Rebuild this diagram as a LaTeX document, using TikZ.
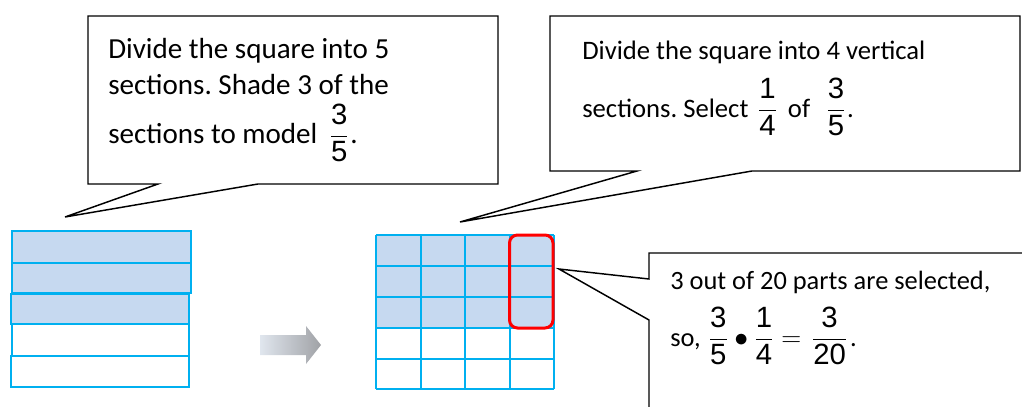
\documentclass[tikz,border=0pt]{standalone}
\usepackage{amsmath}
\usepackage{fontspec}
\setmainfont{Carlito}
\newfontfamily\fracfont{Liberation Sans}
\definecolor{gridblue}{RGB}{0,176,240}
\definecolor{shadeblue}{RGB}{198,217,240}
\definecolor{arrowlight}{RGB}{224,230,238}
\definecolor{arrowdark}{RGB}{160,162,166}
\newcommand{\fd}[1]{\hbox{\fracfont\fontsize{22}{22}\selectfont #1}}
\newcommand{\fr}[2]{\ensuremath{\genfrac{}{}{0.6pt}{0}{\fd{#1}}{\fd{#2}}}}
\frenchspacing
\begin{document}
\begin{tikzpicture}[x=0.75pt,y=-0.75pt,
  callout/.style={draw=black,line width=1.1pt,fill=white,line join=miter},
  cell/.style={draw=gridblue,line width=1.5pt},
  shaded/.style={cell,fill=shadeblue},
  plain/.style={cell,fill=white},
  pick/.style={draw=red,line width=2.25pt,rounded corners=6pt},
  txtA/.style={anchor=base west,inner sep=0pt,font=\fontsize{21.8}{26}\selectfont},
  txtB/.style={anchor=base west,inner sep=0pt,font=\fontsize{20}{24}\selectfont},
  txtC/.style={anchor=base west,inner sep=0pt,font=\fontsize{19.8}{24}\selectfont}]
\useasboundingbox (0,0) rectangle (1022,407);
\clip (0,0) rectangle (1022,407);

% left model: five horizontal sections
\draw[shaded] (12,231) rectangle (191,263);
\draw[shaded] (12,263) rectangle (191,293);
\draw[shaded] (11,294) rectangle (189,324);
\draw[plain]  (12,324) rectangle (189,356);
\draw[plain]  (11,356) rectangle (189,387);

% grey arrow
\shade[shading=axis,shading angle=60,left color=arrowlight,right color=arrowdark]
  (260,335) -- (306,335) -- (306,326) -- (321,345) -- (306,364) -- (306,355) -- (260,355) -- cycle;

% right model: 5 x 4 grid
\fill[shadeblue] (376,235) rectangle (554,328);
\foreach \x in {376,420.5,465,509.5,554} \draw[cell] (\x,235) -- (\x,389);
\foreach \y in {235,266,297,328,358.5,389} \draw[cell] (376,\y) -- (554,\y);
\draw[pick] (509.5,235) rectangle (553,328);

% tips of the callouts
\coordinate (tipA) at (65,217);
\coordinate (tipB) at (460,222);
\coordinate (tipC) at (559,269);

% callout 1
\draw[callout] (88,16) -- (498,16) -- (498,184) -- (258,184) -- (tipA) -- (158,184) -- (88,184) -- cycle;
\node[txtA] (a1) at (108,58) {Divide the square into 5};
\node[txtA] (a2) at (108,94) {sections. Shade 3 of the};
\node[txtA] (a3) at (108,143) {sections to model\hspace{9pt}\fr{3}{5}\hspace{1pt}.};

% callout 2
\draw[callout] (550,16) -- (1020,16) -- (1020,171) -- (752,171) -- (tipB) -- (637,171) -- (550,171) -- cycle;
\node[txtB] (b1) at (582,59) {Divide the square into 4 vertical};
\node[txtB] (b2) at (582,117) {sections. Select\hspace{7pt}\fr{1}{4}\hspace{8pt}of\hspace{12pt}\fr{3}{5}\hspace{1pt}.};

% callout 3
\draw[callout] (649,430) -- (649,320) -- (tipC) -- (649,279) -- (649,253) -- (1040,253) -- (1040,430) -- cycle;
\node[txtC] (c1) at (670,289) {3 out of 20 parts are selected,};
\node[txtC] (c2) at (670,346) {so,\hspace{6pt}$\fr{3}{5}\mathbin{\bullet}\fr{1}{4}\mathrel{=}\hspace{2pt}\fr{3}{20}$\hspace{2pt}.};
\end{tikzpicture}
\end{document}
